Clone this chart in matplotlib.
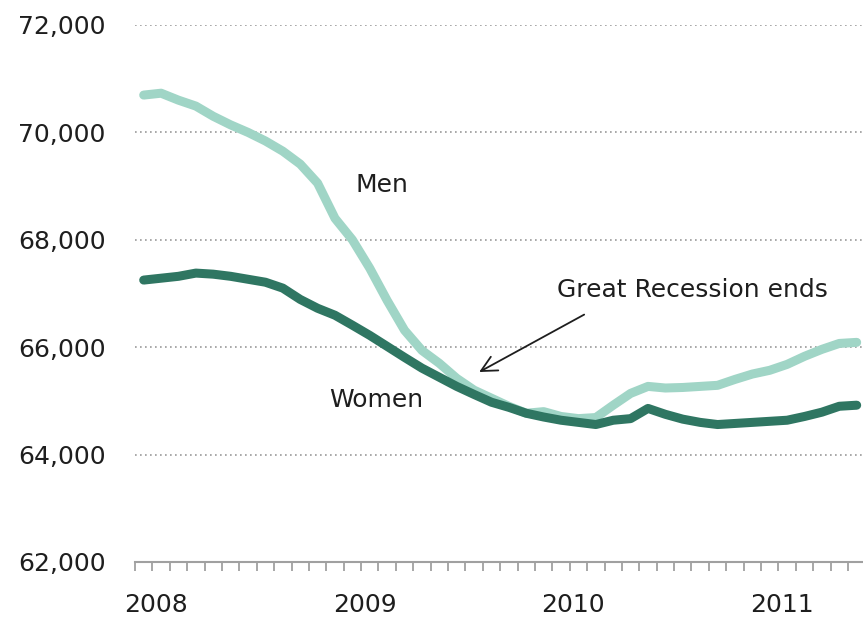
import matplotlib
matplotlib.use("Agg")
import matplotlib.pyplot as plt
from matplotlib.ticker import FuncFormatter, FixedLocator

men = [70695, 70730, 70600, 70490, 70300, 70140, 70000, 69840, 69650, 69410,
       69055, 68400, 68000, 67470, 66870, 66315, 65940, 65700, 65420, 65200,
       65050, 64900, 64770, 64800, 64710, 64670, 64690, 64920, 65140, 65270,
       65240, 65250, 65270, 65290, 65400, 65500, 65570, 65680, 65830, 65960,
       66070, 66090]
women = [67250, 67285, 67320, 67380, 67360, 67320, 67265, 67210, 67100, 66890,
         66725, 66595, 66410, 66220, 66015, 65810, 65610, 65440, 65270, 65120,
         64975, 64880, 64770, 64700, 64640, 64600, 64560, 64640, 64670, 64860,
         64750, 64660, 64600, 64560, 64580, 64600, 64620, 64640, 64710, 64790,
         64900, 64920]
year_labels = ["2008", "2009", "2010", "2011"]
y_ticks = [62000, 64000, 66000, 68000, 70000, 72000]

plt.rcParams['font.family'] = ['DejaVu Sans']
fig = plt.figure(figsize=(8.63, 6.17), dpi=100)
ax = fig.add_axes([135/863, 1-562/617, (863-135)/863, (562-25)/617])

x = list(range(len(men)))
ax.plot(x, men, color='#a0d5c6', lw=6.5, solid_capstyle='round', solid_joinstyle='round', zorder=3)
ax.plot(x, women, color='#2f7662', lw=6.5, solid_capstyle='round', solid_joinstyle='round', zorder=4)

ax.set_xlim(-0.5, -0.5 + (863-135)/17.39)
ax.set_ylim(62000, 72000)

for s in ['top', 'right', 'left']:
    ax.spines[s].set_visible(False)
ax.spines['bottom'].set_color('#a0a0a0')
ax.spines['bottom'].set_linewidth(1.5)

ax.set_yticks(y_ticks)
ax.yaxis.set_major_formatter(FuncFormatter(lambda v, p: f"{int(v):,}"))
ax.tick_params(axis='y', length=0, pad=21, labelsize=18, labelcolor='#1e1e1e')
for yv in y_ticks[1:]:
    ax.axhline(yv, color='#9a9a9a', lw=1.2, ls=(0, (1, 2)), zorder=1)

ax.xaxis.set_minor_locator(FixedLocator([k - 0.5 for k in range(len(men) + 1)]))
ax.set_xticks([0.7 + 12 * i for i in range(len(year_labels))])
ax.set_xticklabels(year_labels)
ax.tick_params(axis='x', which='major', length=0, pad=22, labelsize=18, labelcolor='#1e1e1e')
ax.tick_params(axis='x', which='minor', length=6.5, width=1.3, color='#a0a0a0', direction='out')

ax.text(13.7, 69020, "Men", fontsize=18, color='#1e1e1e', ha='center', va='center')
ax.text(13.4, 65010, "Women", fontsize=18, color='#1e1e1e', ha='center', va='center')
ax.text(23.75, 67060, "Great Recession ends", fontsize=18, color='#1e1e1e', ha='left', va='center')
ax.annotate("", xy=(19.15, 65513), xytext=(25.47, 66632),
            arrowprops=dict(arrowstyle='->', color='#1e1e1e', lw=1.3, mutation_scale=28))

fig.savefig("out.png", dpi=100)
